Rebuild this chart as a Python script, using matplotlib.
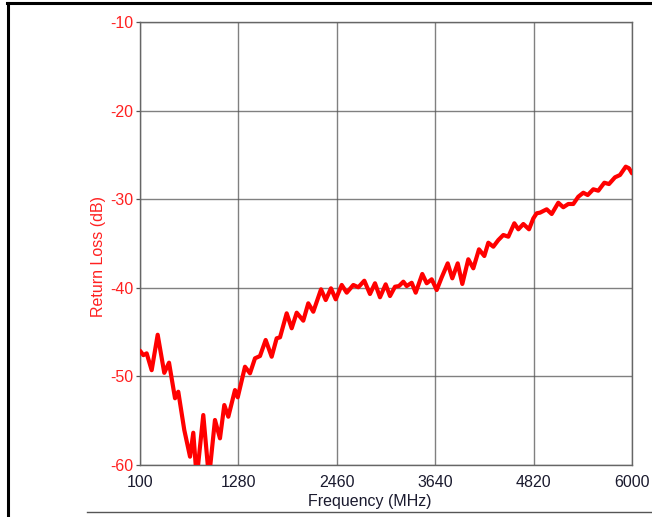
import matplotlib
matplotlib.use("Agg")
import matplotlib.pyplot as plt
from matplotlib.lines import Line2D

freq_mhz = [100, 140, 180, 240, 312, 391, 448, 520, 559, 631, 700, 739, 780, 859, 927,
            999, 1059, 1111, 1159, 1239, 1272, 1359, 1419, 1479, 1539, 1607, 1679, 1739,
            1779, 1859, 1919, 1979, 2058, 2118, 2178, 2271, 2327, 2390, 2447, 2519, 2579,
            2658, 2718, 2790, 2858, 2918, 2978, 3046, 3098, 3158, 3206, 3258, 3298, 3358,
            3406, 3485, 3538, 3598, 3658, 3718, 3790, 3845, 3910, 3965, 4037, 4097, 4165,
            4229, 4277, 4337, 4397, 4457, 4517, 4589, 4637, 4697, 4765, 4817, 4857, 4897,
            4977, 5037, 5116, 5176, 5236, 5296, 5356, 5416, 5469, 5536, 5596, 5668, 5724,
            5796, 5856, 5925, 5964, 6000]
return_loss_db = [-47.1, -47.6, -47.4, -49.3, -45.3, -49.6, -48.45, -52.47, -51.73, -56.05,
                  -59.06, -56.36, -61.5, -54.36, -61.5, -54.92, -56.99, -53.23, -54.55, -51.54,
                  -52.36, -48.91, -49.65, -47.96, -47.70, -45.89, -47.78, -45.70, -45.59, -42.88,
                  -44.57, -42.81, -43.71, -41.75, -42.70, -40.17, -41.38, -40.06, -41.30, -39.68,
                  -40.55, -39.68, -39.94, -39.20, -40.70, -39.49, -41.07, -39.61, -40.93, -39.88,
                  -39.80, -39.31, -39.80, -39.43, -40.55, -38.44, -39.49, -39.04, -40.25, -38.82,
                  -37.24, -38.93, -37.24, -39.57, -36.78, -37.80, -35.66, -36.41, -34.91, -35.36,
                  -34.61, -34.04, -34.23, -32.72, -33.40, -32.80, -33.40, -32.16, -31.59, -31.52,
                  -31.14, -31.67, -30.40, -30.91, -30.54, -30.54, -29.72, -29.27, -29.53, -28.88,
                  -29.04, -28.14, -28.29, -27.53, -27.27, -26.33, -26.51, -27.08]
x_ticks = [100, 1280, 2460, 3640, 4820, 6000]
y_ticks = [-60, -50, -40, -30, -20, -10]

plt.rcParams['font.family'] = ['Liberation Sans', 'DejaVu Sans']

fig = plt.figure(figsize=(6.52, 5.17), dpi=100)
ax = fig.add_axes([140/652, 1-465/517, 492/652, 443/517])

ax.plot(freq_mhz, return_loss_db, color='#ff0000', lw=3.0, solid_joinstyle='round',
        solid_capstyle='round', zorder=3)

ax.set_xlim(100, 6000)
ax.set_ylim(-60, -10)
ax.set_xticks(x_ticks)
ax.set_yticks(y_ticks)
ax.set_xticklabels([str(t) for t in x_ticks], color='#1a1a2e', fontsize=11.5)
ax.set_yticklabels([str(t) for t in y_ticks], color='#ff2020', fontsize=11.5)
ax.grid(True, color='#555555', lw=1.0, alpha=0.75)
for s in ax.spines.values():
    s.set_color('#666666')
    s.set_linewidth(1.0)
ax.tick_params(axis='y', length=3, width=0.9, color='#555555', pad=2)
ax.tick_params(axis='x', length=0, pad=7)
ax.set_xlabel('Frequency (MHz)', color='#1a1a2e', fontsize=11.5)
ax.set_ylabel('Return Loss (dB)', color='#ff2020', fontsize=11.5)
ax.xaxis.set_label_coords(0.466, -0.0645)
ax.yaxis.set_label_coords(-0.07, 0.47)

# page frame lines
fig.add_artist(Line2D([8/652, 8/652], [0, 1-2.5/517], transform=fig.transFigure,
                      color='black', lw=2.2))
fig.add_artist(Line2D([7/652, 1], [1-2.5/517, 1-2.5/517], transform=fig.transFigure,
                      color='black', lw=2.2))
fig.add_artist(Line2D([87/652, 1], [1-512/517, 1-512/517], transform=fig.transFigure,
                      color='#555555', lw=1.0))

fig.savefig('out.png', dpi=100)
